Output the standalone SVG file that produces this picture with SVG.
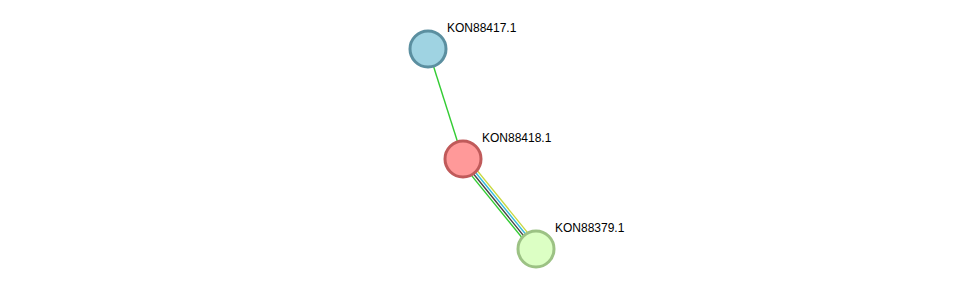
<svg xmlns="http://www.w3.org/2000/svg" width="975" height="295" viewBox="0 0 975 295">
<style>
.node{stroke-width:3}
.lbl{font-family:"Liberation Sans",Arial,sans-serif;font-size:12px;fill:#000}
.e{stroke-width:1.4;fill:none}
</style>
<rect width="975" height="295" fill="#fff"/>
<g id="connectors">
<line class="e" x1="428" y1="49" x2="463" y2="159" stroke="#33cc33"/>
<g transform="translate(463,159)">
<line class="e" x1="-2.9" y1="2.4" x2="70.1" y2="92.4" stroke="#33cc33"/>
<line class="e" x1="-1.0" y1="0.8" x2="72.0" y2="90.8" stroke="#444444"/>
<line class="e" x1="1.0" y1="-0.8" x2="74.0" y2="89.2" stroke="#33bbdd"/>
<line class="e" x1="2.9" y1="-2.4" x2="75.9" y2="87.6" stroke="#c8d840"/>
</g>
</g>
<g id="KON88417.1">
<circle class="node" cx="428" cy="49" r="18" fill="#9fd3e2" stroke="#5b8fa0"/>
<text class="lbl" x="447" y="32">KON88417.1</text>
</g>
<g id="KON88418.1">
<circle class="node" cx="463" cy="159" r="18" fill="#ff9999" stroke="#c05a5a"/>
<text class="lbl" x="482" y="142">KON88418.1</text>
</g>
<g id="KON88379.1">
<circle class="node" cx="536" cy="249" r="18" fill="#dcffc4" stroke="#9cc284"/>
<text class="lbl" x="555" y="232">KON88379.1</text>
</g>
</svg>
